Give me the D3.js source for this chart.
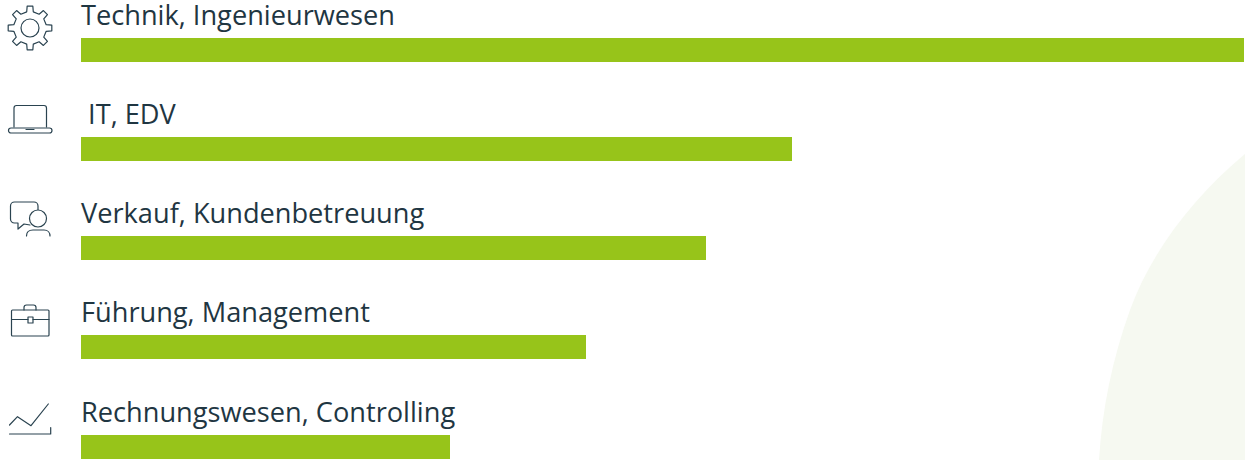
<!DOCTYPE html>
<html lang="de">
<head>
<meta charset="utf-8">
<title>Berufsfelder</title>
<script src="https://cdn.jsdelivr.net/npm/d3@7/dist/d3.min.js"></script>
<style>
  html, body { margin: 0; padding: 0; background: #fff; }
  svg { display: block; }
  text { font-family: "Open Sans", sans-serif; font-size: 27.2px; fill: #1f3642; white-space: pre; }
</style>
</head>
<body>
<svg id="chart" width="1245" height="460"></svg>
<script>
// Job fields and their relative share, longest bar = 100
const categories = [
  "Technik, Ingenieurwesen",
  " IT, EDV",
  "Verkauf, Kundenbetreuung",
  "Führung, Management",
  "Rechnungswesen, Controlling"
];
const values = [100, 61.15, 53.75, 43.4, 31.7];
const iconNames = ["gear", "laptop", "chat", "case", "trend"];

const barColor = "#97c41a";
const inkColor = "#2a4350";

const svg = d3.select("#chart");

const x = d3.scaleLinear().domain([0, 100]).range([81, 1244]);
const y = d3.scaleBand().domain(categories).range([38, 459]).paddingInner(1 - 24 / 99.25);
const barTop = d => Math.floor(y(d) + 0.01);

// Pale decorative shape behind the bars, lower right corner
svg.append("path")
  .attr("d", "M1245,154C1190,200 1150,255 1130,310C1112,360 1102,410 1099,460H1245Z")
  .attr("fill", "#f6f9f1");

svg.selectAll("rect.bar")
  .data(categories)
  .join("rect")
  .attr("class", "bar")
  .attr("x", x(0))
  .attr("y", barTop)
  .attr("width", (d, i) => Math.round(x(values[i]) - x(0)))
  .attr("height", y.bandwidth())
  .attr("fill", barColor);

svg.selectAll("text.label")
  .data(categories)
  .join("text")
  .attr("class", "label")
  .attr("x", x(0))
  .attr("y", d => barTop(d) - 13)
  .text(d => d);

// Outline icons, each drawn in its own local frame
const icons = svg.append("g")
  .attr("fill", "none")
  .attr("stroke", inkColor)
  .attr("stroke-width", 1.2)
  .attr("stroke-linejoin", "round")
  .attr("stroke-linecap", "round");

const drawIcon = {
  gear(g) {
    const teeth = 8, outer = 22, inner = 16.5;
    const pts = [];
    for (let i = 0; i < teeth; i++) {
      const a = i * 2 * Math.PI / teeth;
      const w = 0.13, r = 0.2;
      pts.push([a - r, inner], [a - w, outer], [a + w, outer], [a + r, inner]);
    }
    g.append("path")
      .attr("d", d3.lineRadial().angle(p => p[0]).radius(p => p[1]).curve(d3.curveLinearClosed)(pts))
      .attr("transform", "translate(30,28)");
    g.append("circle").attr("cx", 30).attr("cy", 28).attr("r", 9);
  },
  laptop(g) {
    g.append("path").attr("d", "M14,127V108a2.5,2.5 0 0 1 2.5,-2.5H44a2.5,2.5 0 0 1 2.5,2.5V127");
    g.append("rect").attr("x", 8.5).attr("y", 128).attr("width", 43.5).attr("height", 5).attr("rx", 2.5);
    g.append("path").attr("d", "M26,129.5H34");
  },
  chat(g) {
    g.append("path").attr("d", "M30,225L24,224L18,229V223H14.5a4,4 0 0 1 -4,-4V206a4,4 0 0 1 4,-4H34a4,4 0 0 1 4,4V209.5");
    g.append("circle").attr("cx", 38).attr("cy", 218.5).attr("r", 8.5);
    g.append("path").attr("d", "M26.5,236C26.5,232 29,230 33,230H44C48,230 50,233 50,236");
  },
  case(g) {
    g.append("rect").attr("x", 11.5).attr("y", 310).attr("width", 37.5).attr("height", 26).attr("rx", 1);
    g.append("path").attr("d", "M11.5,319.5H28M33,319.5H49");
    g.append("rect").attr("x", 28).attr("y", 317).attr("width", 5).attr("height", 6);
    g.append("path").attr("d", "M24,310V307.5a2.5,2.5 0 0 1 2.5,-2.5H33.5a2.5,2.5 0 0 1 2.5,2.5V310");
  },
  trend(g) {
    g.append("path").attr("d", "M9.5,425L17.5,416.7L31,425.7L48.3,404");
    g.append("path").attr("d", "M9.5,434H50.7V427.5");
  }
};

iconNames.forEach(name => drawIcon[name](icons.append("g").attr("class", "icon-" + name)));
</script>
</body>
</html>
